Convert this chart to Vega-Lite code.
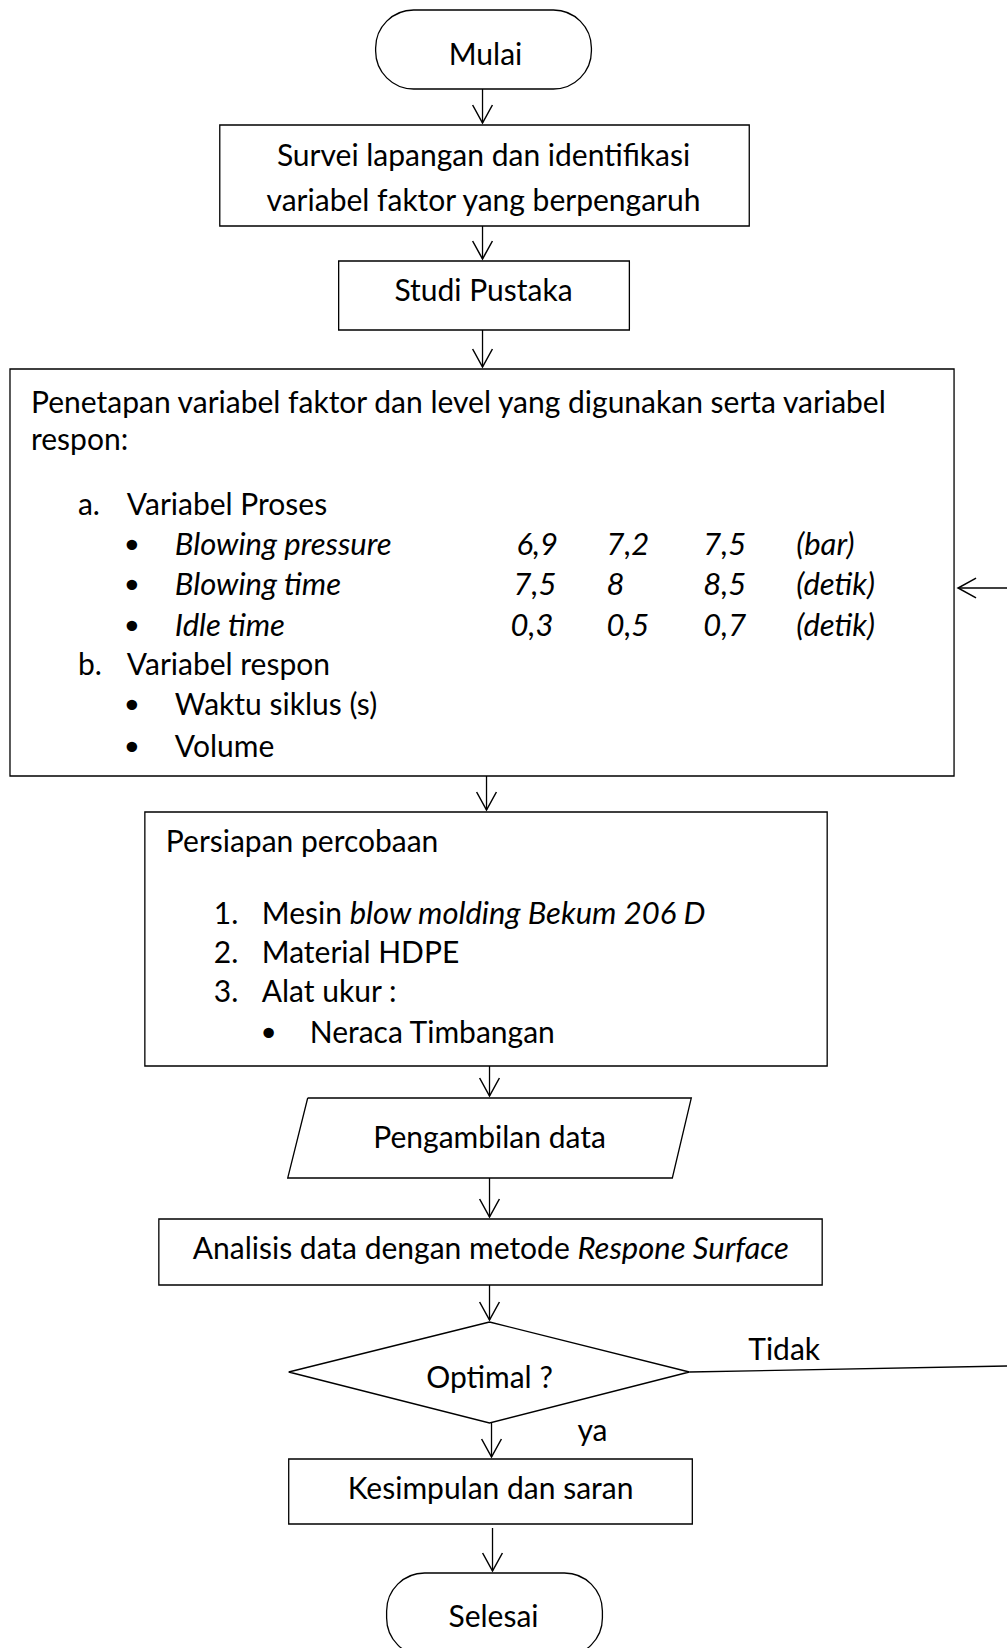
{
  "$schema": "https://vega.github.io/schema/vega-lite/v6.json",
  "width": 1008,
  "height": 1648,
  "padding": 0,
  "autosize": {"type": "fit", "contains": "padding"},
  "background": "white",
  "config": {"view": {"stroke": null}, "axis": {"disable": true}},
  "datasets": {
    "boxes": [
      {"id": "survei", "x1": 220, "x2": 750, "y1": 125, "y2": 226},
      {"id": "studi", "x1": 339, "x2": 630, "y1": 261, "y2": 330},
      {"id": "penetapan", "x1": 10, "x2": 955, "y1": 369, "y2": 776},
      {"id": "persiapan", "x1": 145, "x2": 828, "y1": 812, "y2": 1066},
      {"id": "analisis", "x1": 159, "x2": 823, "y1": 1219, "y2": 1285},
      {"id": "kesimpulan", "x1": 289, "x2": 693, "y1": 1459, "y2": 1524}
    ],
    "terminals": [
      {"id": "mulai", "x1": 376, "x2": 592, "y1": 10, "y2": 89},
      {"id": "selesai", "x1": 387, "x2": 603, "y1": 1573, "y2": 1656}
    ],
    "polys": [
      {"shape": "data", "seq": 1, "x": 308, "y": 1098},
      {"shape": "data", "seq": 2, "x": 692, "y": 1098},
      {"shape": "data", "seq": 3, "x": 673, "y": 1178},
      {"shape": "data", "seq": 4, "x": 288, "y": 1178},
      {"shape": "data", "seq": 5, "x": 308, "y": 1098},
      {"shape": "decision", "seq": 1, "x": 490, "y": 1322},
      {"shape": "decision", "seq": 2, "x": 690, "y": 1372},
      {"shape": "decision", "seq": 3, "x": 490, "y": 1423},
      {"shape": "decision", "seq": 4, "x": 289, "y": 1372},
      {"shape": "decision", "seq": 5, "x": 490, "y": 1322}
    ],
    "lines": [
      {"x": 483, "y": 89, "x2": 483, "y2": 123},
      {"x": 483, "y": 226, "x2": 483, "y2": 259},
      {"x": 483, "y": 330, "x2": 483, "y2": 367},
      {"x": 487, "y": 776, "x2": 487, "y2": 810},
      {"x": 490, "y": 1066, "x2": 490, "y2": 1096},
      {"x": 490, "y": 1178, "x2": 490, "y2": 1217},
      {"x": 490, "y": 1285, "x2": 490, "y2": 1320},
      {"x": 492, "y": 1423, "x2": 492, "y2": 1457},
      {"x": 493, "y": 1528, "x2": 493, "y2": 1571},
      {"x": 959, "y": 588, "x2": 1008, "y2": 588},
      {"x": 690, "y": 1372, "x2": 1008, "y2": 1366}
    ],
    "heads": [
      {"x": 483, "y": 123, "ang": 0},
      {"x": 483, "y": 259, "ang": 0},
      {"x": 483, "y": 367, "ang": 0},
      {"x": 487, "y": 810, "ang": 0},
      {"x": 490, "y": 1096, "ang": 0},
      {"x": 490, "y": 1217, "ang": 0},
      {"x": 490, "y": 1320, "ang": 0},
      {"x": 492, "y": 1457, "ang": 0},
      {"x": 493, "y": 1571, "ang": 0},
      {"x": 959, "y": 588, "ang": 90}
    ],
    "labels": [
      {"t": "Mulai", "x": 486, "y": 65, "k": "c"},
      {"t": "Survei lapangan dan identifikasi", "x": 484, "y": 166, "k": "c"},
      {"t": "variabel faktor yang berpengaruh", "x": 484, "y": 211, "k": "c"},
      {"t": "Studi Pustaka", "x": 484, "y": 301, "k": "c"},
      {"t": "Pengambilan data", "x": 490, "y": 1148, "k": "c"},
      {"t": "Optimal ?", "x": 490, "y": 1388, "k": "c"},
      {"t": "Kesimpulan dan saran", "x": 491, "y": 1499, "k": "c"},
      {"t": "Selesai", "x": 494, "y": 1627, "k": "c"},
      {"t": "•", "x": 132, "y": 558, "k": "b"},
      {"t": "•", "x": 132, "y": 598, "k": "b"},
      {"t": "•", "x": 132, "y": 639, "k": "b"},
      {"t": "•", "x": 132, "y": 718, "k": "b"},
      {"t": "•", "x": 132, "y": 760, "k": "b"},
      {"t": "•", "x": 269, "y": 1046, "k": "b"},
      {"t": "Penetapan variabel faktor dan level yang digunakan serta variabel", "x": 31, "y": 413, "k": "l"},
      {"t": "respon:", "x": 31, "y": 450, "k": "l"},
      {"t": "a.", "x": 78, "y": 515, "k": "l"},
      {"t": "Variabel Proses", "x": 127, "y": 515, "k": "l"},
      {"t": "b.", "x": 78, "y": 675, "k": "l"},
      {"t": "Variabel respon", "x": 127, "y": 675, "k": "l"},
      {"t": "Waktu siklus (s)", "x": 175, "y": 715, "k": "l"},
      {"t": "Volume", "x": 175, "y": 757, "k": "l"},
      {"t": "Persiapan percobaan", "x": 166, "y": 852, "k": "l"},
      {"t": "1.", "x": 214, "y": 924, "k": "l"},
      {"t": "Mesin", "x": 262, "y": 924, "k": "l"},
      {"t": "2.", "x": 214, "y": 963, "k": "l"},
      {"t": "Material HDPE", "x": 262, "y": 963, "k": "l"},
      {"t": "3.", "x": 214, "y": 1002, "k": "l"},
      {"t": "Alat ukur :", "x": 262, "y": 1002, "k": "l"},
      {"t": "Neraca Timbangan", "x": 310, "y": 1043, "k": "l"},
      {"t": "Analisis data dengan metode", "x": 193, "y": 1259, "k": "l"},
      {"t": "Tidak", "x": 749, "y": 1360, "k": "l"},
      {"t": "ya", "x": 578, "y": 1441, "k": "l"},
      {"t": "Blowing pressure", "x": 175, "y": 555, "k": "i"},
      {"t": "6,9", "x": 517, "y": 555, "k": "i"},
      {"t": "7,2", "x": 607, "y": 555, "k": "i"},
      {"t": "7,5", "x": 704, "y": 555, "k": "i"},
      {"t": "(bar)", "x": 797, "y": 555, "k": "i"},
      {"t": "Blowing time", "x": 175, "y": 595, "k": "i"},
      {"t": "7,5", "x": 514, "y": 595, "k": "i"},
      {"t": "8", "x": 607, "y": 595, "k": "i"},
      {"t": "8,5", "x": 704, "y": 595, "k": "i"},
      {"t": "(detik)", "x": 797, "y": 595, "k": "i"},
      {"t": "Idle time", "x": 175, "y": 636, "k": "i"},
      {"t": "0,3", "x": 511, "y": 636, "k": "i"},
      {"t": "0,5", "x": 607, "y": 636, "k": "i"},
      {"t": "0,7", "x": 704, "y": 636, "k": "i"},
      {"t": "(detik)", "x": 797, "y": 636, "k": "i"},
      {"t": "blow molding Bekum 206 D", "x": 350, "y": 924, "k": "i"},
      {"t": "Respone Surface", "x": 578, "y": 1259, "k": "i"}
    ]
  },
  "layer": [
    {
      "data": {"name": "boxes"},
      "mark": {"type": "rect", "fill": "white", "stroke": "black", "strokeWidth": 1.3},
      "encoding": {
        "x": {"field": "x1", "type": "quantitative", "scale": {"domain": [0, 1008], "nice": false, "zero": false}},
        "x2": {"field": "x2"},
        "y": {"field": "y1", "type": "quantitative", "scale": {"domain": [0, 1648], "nice": false, "zero": false, "reverse": true}},
        "y2": {"field": "y2"}
      }
    },
    {
      "data": {"name": "terminals"},
      "mark": {"type": "rect", "fill": "white", "stroke": "black", "strokeWidth": 1.3, "cornerRadius": 38, "clip": true},
      "encoding": {
        "x": {"field": "x1", "type": "quantitative"},
        "x2": {"field": "x2"},
        "y": {"field": "y1", "type": "quantitative"},
        "y2": {"field": "y2"}
      }
    },
    {
      "data": {"name": "polys"},
      "mark": {"type": "line", "color": "black", "strokeWidth": 1.3},
      "encoding": {
        "x": {"field": "x", "type": "quantitative"},
        "y": {"field": "y", "type": "quantitative"},
        "detail": {"field": "shape"},
        "order": {"field": "seq", "type": "quantitative"}
      }
    },
    {
      "data": {"name": "lines"},
      "mark": {"type": "rule", "color": "black", "strokeWidth": 1.3},
      "encoding": {
        "x": {"field": "x", "type": "quantitative"},
        "y": {"field": "y", "type": "quantitative"},
        "x2": {"field": "x2"},
        "y2": {"field": "y2"}
      }
    },
    {
      "data": {"name": "heads"},
      "mark": {"type": "point", "shape": "M-0.55,-1L0,0L0.55,-1", "filled": false, "stroke": "black", "strokeWidth": 1.5, "opacity": 1, "size": 1296},
      "encoding": {
        "x": {"field": "x", "type": "quantitative"},
        "y": {"field": "y", "type": "quantitative"},
        "angle": {"field": "ang", "type": "quantitative", "scale": null}
      }
    },
    {
      "data": {"name": "labels"},
      "transform": [{"filter": "datum.k === 'c'"}],
      "mark": {"type": "text", "font": "Lato", "fontSize": 30, "align": "center", "baseline": "alphabetic", "color": "black"},
      "encoding": {
        "x": {"field": "x", "type": "quantitative"},
        "y": {"field": "y", "type": "quantitative"},
        "text": {"field": "t"}
      }
    },
    {
      "data": {"name": "labels"},
      "transform": [{"filter": "datum.k === 'b'"}],
      "mark": {"type": "text", "font": "DejaVu Sans", "fontSize": 36, "align": "center", "baseline": "alphabetic", "color": "black"},
      "encoding": {
        "x": {"field": "x", "type": "quantitative"},
        "y": {"field": "y", "type": "quantitative"},
        "text": {"field": "t"}
      }
    },
    {
      "data": {"name": "labels"},
      "transform": [{"filter": "datum.k === 'l'"}],
      "mark": {"type": "text", "font": "Lato", "fontSize": 30, "align": "left", "baseline": "alphabetic", "color": "black"},
      "encoding": {
        "x": {"field": "x", "type": "quantitative"},
        "y": {"field": "y", "type": "quantitative"},
        "text": {"field": "t"}
      }
    },
    {
      "data": {"name": "labels"},
      "transform": [{"filter": "datum.k === 'i'"}],
      "mark": {"type": "text", "font": "Lato", "fontSize": 31, "fontStyle": "italic", "align": "left", "baseline": "alphabetic", "color": "black"},
      "encoding": {
        "x": {"field": "x", "type": "quantitative"},
        "y": {"field": "y", "type": "quantitative"},
        "text": {"field": "t"}
      }
    }
  ]
}
